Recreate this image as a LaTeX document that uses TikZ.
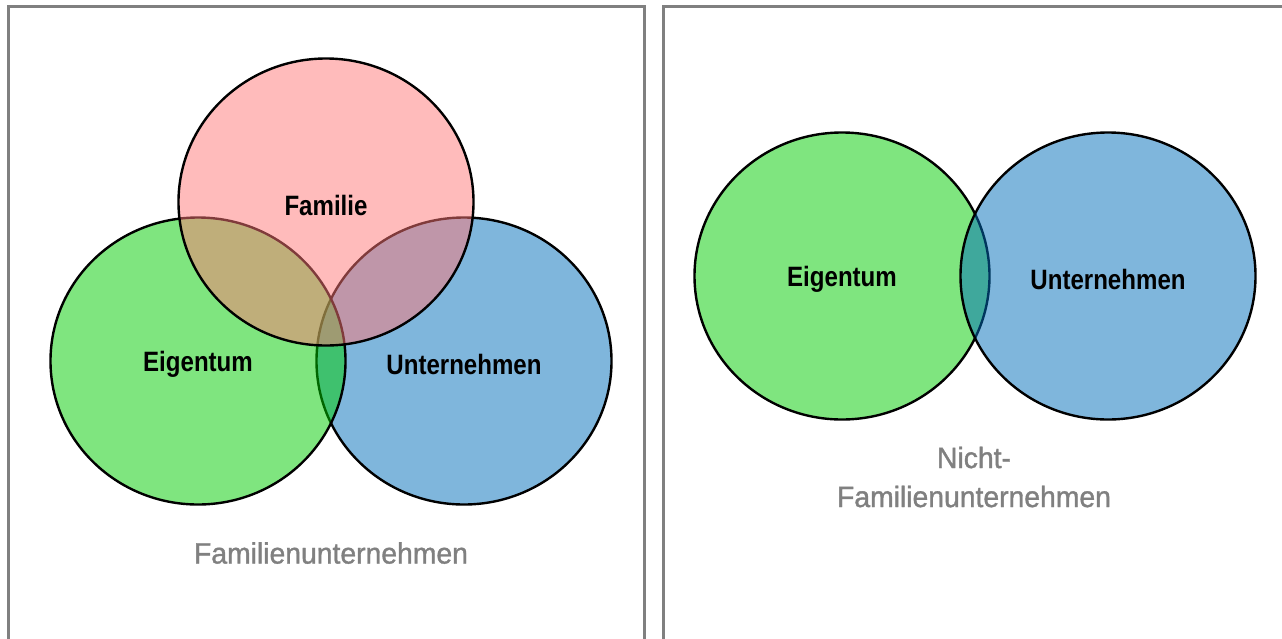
\documentclass[tikz,border=0pt]{standalone}
\usepackage{fontspec}
\setmainfont{Liberation Sans}
\newfontfamily\labelfont[FakeStretch=0.86]{Liberation Sans}
\newfontfamily\captionfont[FakeStretch=0.96,FakeBold=1.2]{Liberation Sans}
\usetikzlibrary{shapes.geometric}
\definecolor{famred}{RGB}{255,119,119}
\definecolor{eigreen}{RGB}{0,204,0}
\definecolor{untblue}{RGB}{0,109,186}
\definecolor{framegray}{RGB}{128,128,128}
\begin{document}
\begin{tikzpicture}[x=1pt,y=-1pt,
  setcircle/.style={ellipse, draw=black, line width=2.4pt, minimum width=295pt, minimum height=287pt, inner sep=0pt, fill opacity=0.5, text opacity=1},
  setlabel/.style={font=\labelfont\bfseries\fontsize{28}{30}\selectfont, text=black, inner sep=0pt},
  caption/.style={font=\captionfont\fontsize{29.5}{39}\selectfont, text=framegray, align=center, inner sep=0pt},
  panelframe/.style={draw=framegray, line width=3pt}]
\useasboundingbox (0,0) rectangle (1282,638);
% panel frames
\coordinate (lbl) at (8,645);
\coordinate (ltl) at (8,6);
\coordinate (ltr) at (644,6);
\coordinate (lbr) at (644,645);
\coordinate (rbl) at (663,645);
\coordinate (rtl) at (663,6);
\coordinate (rtr) at (1290,6);
\draw[panelframe] (lbl) -- (ltl) -- (ltr) -- (lbr);
\draw[panelframe] (rbl) -- (rtl) -- (rtr);
% left Venn
\node[setcircle, fill=untblue] (unt) at (464,361) {};
\node[setcircle, fill=eigreen] (eig) at (198,361) {};
\node[setcircle, fill=famred] (fam) at (326,202) {};
\node[setlabel] (famlabel) at ([yshift=-3pt]fam.center) {Familie};
\node[setlabel] (eiglabel) at ([yshift=-3pt]eig.center) {Eigentum};
\node[setlabel] (untlabel) at ([yshift=-3pt]unt.center) {Unternehmen};
\node[caption] (lcap) at (331,553) {Familienunternehmen};
% right Venn
\node[setcircle, fill=eigreen] (reig) at (842,276) {};
\node[setcircle, fill=untblue] (runt) at (1108,276) {};
\node[setlabel] (reiglabel) at ([yshift=-3pt]reig.center) {Eigentum};
\node[setlabel] (runtlabel) at ([yshift=-3pt]runt.center) {Unternehmen};
\node[caption] (rcap) at (974,477) {Nicht-\\Familienunternehmen};
\end{tikzpicture}
\end{document}
